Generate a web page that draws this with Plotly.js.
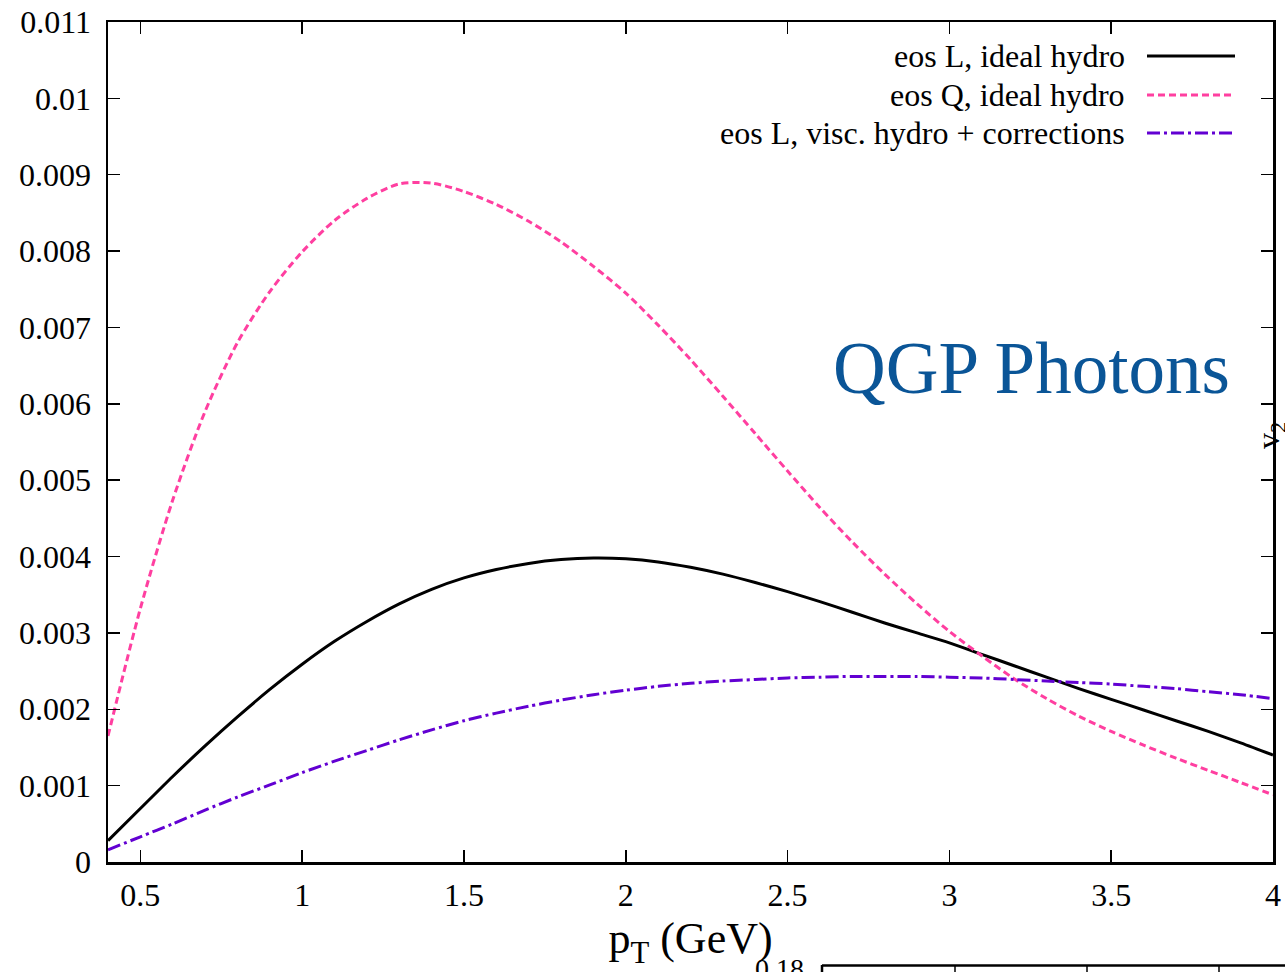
<!DOCTYPE html>
<html>
<head>
<meta charset="utf-8">
<script src="https://cdn.plot.ly/plotly-3.0.1.min.js"></script>
<style>
  html, body { margin: 0; padding: 0; background: #ffffff; }
  #chart { width: 1285px; height: 972px; }
</style>
</head>
<body>
<div id="chart"></div>
<script>
// Photon elliptic flow v2 versus transverse momentum
const pT = [0.4, 0.5, 0.6, 0.7, 0.8, 0.9, 1.0, 1.1, 1.2, 1.3, 1.4, 1.5, 1.6, 1.7, 1.8, 1.9,
            2.0, 2.1, 2.2, 2.3, 2.4, 2.5, 2.6, 2.7, 2.8, 2.9, 3.0, 3.1, 3.2, 3.3, 3.4, 3.5,
            3.6, 3.7, 3.8, 3.9, 4.0];

const eosLIdeal = [0.00028, 0.00070, 0.00112, 0.00152, 0.00190, 0.00226, 0.00259, 0.00289,
                   0.00315, 0.00338, 0.00357, 0.00372, 0.00383, 0.00391, 0.00396, 0.00398,
                   0.00397, 0.00393, 0.00386, 0.00377, 0.00366, 0.00354, 0.00341, 0.00327,
                   0.00313, 0.00300, 0.00287, 0.00272, 0.00257, 0.00242, 0.00227, 0.00213,
                   0.00199, 0.00185, 0.00171, 0.00156, 0.00140];

const eosQIdeal = [0.00165, 0.00332, 0.00474, 0.00590, 0.00680, 0.00747, 0.00799, 0.00840,
                   0.00869, 0.00888, 0.00889, 0.00878, 0.00861, 0.00839, 0.00812, 0.00780,
                   0.00745, 0.00703, 0.00658, 0.00610, 0.00561, 0.00512, 0.00464, 0.00419,
                   0.00377, 0.00338, 0.00302, 0.00270, 0.00240, 0.00214, 0.00191, 0.00171,
                   0.00153, 0.00136, 0.00120, 0.00104, 0.00088];

const eosLVisc = [0.00016, 0.00033, 0.00050, 0.00068, 0.00085, 0.00101, 0.00117, 0.00132,
                  0.00146, 0.00160, 0.00173, 0.00185, 0.00195, 0.00204, 0.00212, 0.00219,
                  0.00225, 0.00230, 0.00234, 0.00237, 0.00239, 0.00241, 0.00242, 0.00243,
                  0.00243, 0.00243, 0.00242, 0.00241, 0.00239, 0.00237, 0.00235, 0.00233,
                  0.00230, 0.00227, 0.00223, 0.00219, 0.00214];

const seriesNames = ['eos L, ideal hydro', 'eos Q, ideal hydro', 'eos L, visc. hydro + corrections'];

const xTickVals = [0.5, 1, 1.5, 2, 2.5, 3, 3.5, 4];
const xTickText = ['0.5', '1', '1.5', '2', '2.5', '3', '3.5', '4'];
const yTickVals = [0, 0.001, 0.002, 0.003, 0.004, 0.005, 0.006, 0.007, 0.008, 0.009, 0.01, 0.011];
const yTickText = ['0', '0.001', '0.002', '0.003', '0.004', '0.005', '0.006', '0.007', '0.008', '0.009', '0.01', '0.011'];

// figure geometry (pixels)
const W = 1285, H = 972;
const M = { l: 108, r: 12, t: 22, b: 110 };
const plotW = W - M.l - M.r, plotH = H - M.t - M.b;
const px = x => (x - M.l) / plotW;          // page x -> paper x
const py = y => (H - M.b - y) / plotH;      // page y -> paper y

const serif = 'Liberation Serif, Times New Roman, serif';

const styles = [
  { color: '#000000', width: 3, dash: 'solid' },
  { color: '#ff3fa0', width: 3, dash: '7px,4px' },
  { color: '#6200d2', width: 3, dash: '13px,4px,3px,4px' }
];
const series = [eosLIdeal, eosQIdeal, eosLVisc];

const traces = series.map((ys, i) => ({
  x: pT, y: ys, type: 'scatter', mode: 'lines', name: seriesNames[i],
  line: { color: styles[i].color, width: styles[i].width, dash: styles[i].dash, shape: 'spline', smoothing: 0.8 },
  showlegend: false, hoverinfo: 'skip'
}));

// key drawn gnuplot-style: text on the left, line sample on the right
const keyRows = [56, 95, 133];
const annotations = [];
const shapes = [];
seriesNames.forEach((name, i) => {
  annotations.push({
    xref: 'paper', yref: 'paper', x: px(1127), y: py(keyRows[i]),
    xanchor: 'right', yanchor: 'middle', showarrow: false, text: name,
    font: { family: serif, size: 32, color: '#000' }
  });
  shapes.push({
    type: 'line', xref: 'paper', yref: 'paper',
    x0: px(1147), x1: px(1235), y0: py(keyRows[i]), y1: py(keyRows[i]),
    line: { color: styles[i].color, width: styles[i].width, dash: styles[i].dash }
  });
});

annotations.push({
  xref: 'paper', yref: 'paper', x: px(1031), y: py(368),
  xanchor: 'center', yanchor: 'middle', showarrow: false, text: 'QGP Photons',
  font: { family: serif, size: 73, color: '#0a5597' }
});

// neighbouring panels at the page edges
annotations.push({
  xref: 'paper', yref: 'paper', x: px(1270), y: py(436),
  xanchor: 'center', yanchor: 'middle', showarrow: false, textangle: -90,
  text: 'v<sub>2</sub>', font: { family: serif, size: 32, color: '#000' }
});
annotations.push({
  xref: 'paper', yref: 'paper', x: px(806), y: py(968),
  xanchor: 'right', yanchor: 'middle', showarrow: false,
  text: '0.18', font: { family: serif, size: 28, color: '#000' }
});
shapes.push({ type: 'line', xref: 'paper', yref: 'paper', x0: px(822), x1: px(1290), y0: py(965.5), y1: py(965.5), line: { color: '#000', width: 2.5 } });
shapes.push({ type: 'line', xref: 'paper', yref: 'paper', x0: px(822), x1: px(822), y0: py(965), y1: py(980), line: { color: '#000', width: 2.5 } });
[955, 1087, 1219].forEach(xp => {
  shapes.push({ type: 'line', xref: 'paper', yref: 'paper', x0: px(xp), x1: px(xp), y0: py(965), y1: py(976), line: { color: '#000', width: 1.5 } });
});

const axisCommon = {
  showline: true, linecolor: '#000', linewidth: 2.5, mirror: 'allticks',
  ticks: 'inside', ticklen: 12, tickwidth: 1.5, tickcolor: '#000',
  showgrid: false, zeroline: false, tickmode: 'array',
  tickfont: { family: serif, size: 32, color: '#000' }
};

const layout = {
  width: W, height: H,
  margin: M,
  paper_bgcolor: '#ffffff', plot_bgcolor: '#ffffff',
  xaxis: Object.assign({}, axisCommon, {
    range: [0.4, 4], tickvals: xTickVals, ticktext: xTickText,
    ticklabelstandoff: 3,
    title: { text: 'p<sub>T</sub> (GeV)', font: { family: serif, size: 44, color: '#000' }, standoff: 11 }
  }),
  yaxis: Object.assign({}, axisCommon, {
    range: [0, 0.011], tickvals: yTickVals, ticktext: yTickText,
    ticklabelstandoff: 8
  }),
  annotations: annotations,
  shapes: shapes,
  showlegend: false
};

Plotly.newPlot('chart', traces, layout, { displayModeBar: false, staticPlot: true });
</script>
</body>
</html>
